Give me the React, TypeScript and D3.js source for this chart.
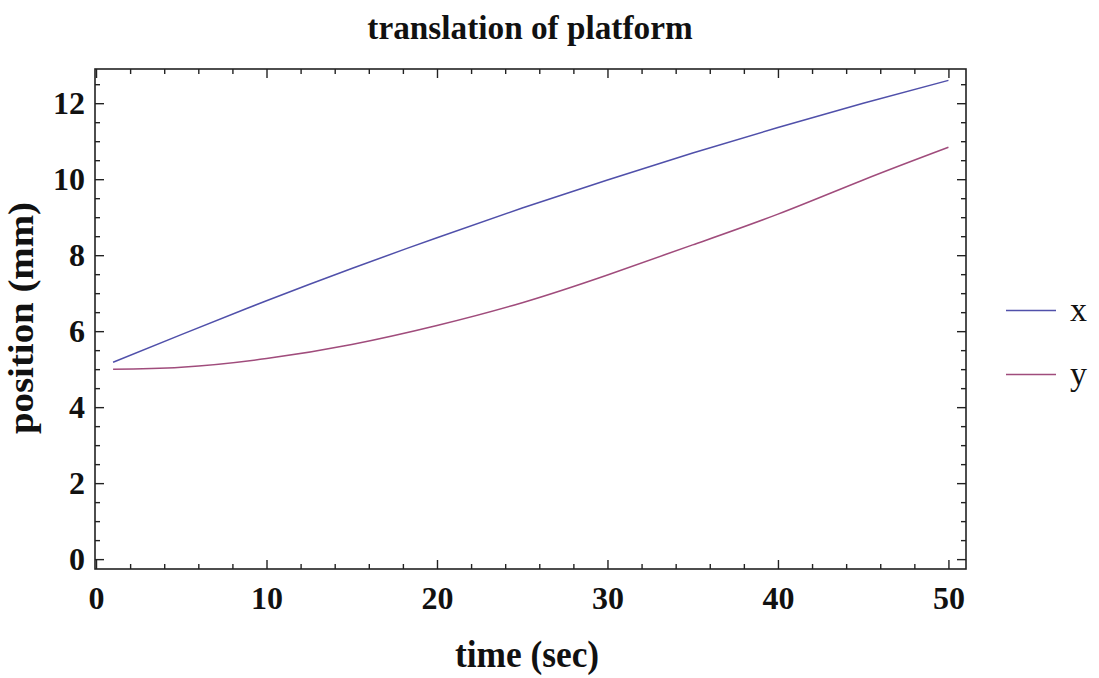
import React, { useEffect, useRef } from "react";
import * as d3 from "d3";

const times = [1, 5, 10, 15, 20, 25, 30, 35, 40, 45, 50];
const xPos = [5.18, 5.91, 6.8, 7.65, 8.46, 9.24, 9.98, 10.69, 11.36, 12.0, 12.6];
const yPos = [5.0, 5.05, 5.28, 5.65, 6.15, 6.75, 7.48, 8.27, 9.08, 9.98, 10.84];
const seriesNames = ["x", "y"];
const seriesColors = ["#5050aa", "#a04c7c"];
const xTicks = [0, 10, 20, 30, 40, 50];
const yTicks = [0, 2, 4, 6, 8, 10, 12];
const titleText = "translation of platform";
const xLabel = "time (sec)";
const yLabel = "position (mm)";

const W = 1099;
const H = 678;
const L = 95, R = 966, T = 69, B = 569;
const FONT = "'Liberation Serif', 'Times New Roman', serif";

export default function App() {
  const ref = useRef<SVGSVGElement>(null);
  useEffect(() => {
    const svg = d3.select(ref.current);
    svg.selectAll("*").remove();
    const x = d3.scaleLinear().domain([-0.06, 51.03]).range([L, R]);
    const y = d3.scaleLinear().domain([-0.26, 12.9]).range([B, T]);

    const xMinor = d3.range(0, 51, 2).filter((v) => v % 10 !== 0);
    const yMinor = d3.range(0, 12.9, 0.5).filter((v) => v % 2 !== 0);

    const style = (g: any) => {
      g.select(".domain").remove();
      g.selectAll("line").attr("stroke", "#222").attr("stroke-width", 1.4);
      g.selectAll("text")
        .attr("font-family", FONT)
        .attr("font-weight", "bold")
        .attr("font-size", 32)
        .attr("fill", "#111");
    };

    svg.append("g").attr("transform", `translate(0,${B})`)
      .call(d3.axisBottom(x).tickValues(xTicks).tickSize(-9).tickPadding(17).tickFormat(d3.format("d")))
      .call(style);
    svg.append("g").attr("transform", `translate(0,${B})`)
      .call(d3.axisBottom(x).tickValues(xMinor).tickSize(-5).tickFormat(() => ""))
      .call(style);
    svg.append("g").attr("transform", `translate(0,${T})`)
      .call(d3.axisTop(x).tickValues(xTicks).tickSize(-9).tickFormat(() => ""))
      .call(style);
    svg.append("g").attr("transform", `translate(0,${T})`)
      .call(d3.axisTop(x).tickValues(xMinor).tickSize(-5).tickFormat(() => ""))
      .call(style);
    svg.append("g").attr("transform", `translate(${L},0)`)
      .call(d3.axisLeft(y).tickValues(yTicks).tickSize(-9).tickPadding(10).tickFormat(d3.format("d")))
      .call(style);
    svg.append("g").attr("transform", `translate(${L},0)`)
      .call(d3.axisLeft(y).tickValues(yMinor).tickSize(-5).tickFormat(() => ""))
      .call(style);
    svg.append("g").attr("transform", `translate(${R},0)`)
      .call(d3.axisRight(y).tickValues(yTicks).tickSize(-9).tickFormat(() => ""))
      .call(style);
    svg.append("g").attr("transform", `translate(${R},0)`)
      .call(d3.axisRight(y).tickValues(yMinor).tickSize(-5).tickFormat(() => ""))
      .call(style);

    svg.append("rect")
      .attr("x", L).attr("y", T).attr("width", R - L).attr("height", B - T)
      .attr("fill", "none").attr("stroke", "#222").attr("stroke-width", 1.6);

    const line = d3.line<number>()
      .x((_, i) => x(times[i]))
      .y((d) => y(d))
      .curve(d3.curveNatural);
    [xPos, yPos].forEach((vals, k) => {
      svg.append("path")
        .attr("d", line(vals) as string)
        .attr("fill", "none")
        .attr("stroke", seriesColors[k])
        .attr("stroke-width", 1.5);
    });

    svg.append("text")
      .attr("transform", "translate(530,39) scale(1.04,1.06)")
      .attr("text-anchor", "middle")
      .attr("font-family", FONT).attr("font-weight", "bold").attr("font-size", 32)
      .attr("fill", "#111")
      .text(titleText);
    svg.append("text")
      .attr("transform", "translate(527,667) scale(1.04,1.1)")
      .attr("text-anchor", "middle")
      .attr("font-family", FONT).attr("font-weight", "bold").attr("font-size", 34)
      .attr("fill", "#111")
      .text(xLabel);
    svg.append("text")
      .attr("transform", `translate(33,318) rotate(-90) scale(1.08,1)`)
      .attr("text-anchor", "middle")
      .attr("font-family", FONT).attr("font-weight", "bold").attr("font-size", 36)
      .attr("fill", "#111")
      .text(yLabel);

    const ly = [310.5, 374.5];
    seriesNames.forEach((n, k) => {
      svg.append("line")
        .attr("x1", 1006).attr("x2", 1056).attr("y1", ly[k]).attr("y2", ly[k])
        .attr("stroke", seriesColors[k]).attr("stroke-width", 1.6);
      svg.append("text")
        .attr("x", 1070).attr("y", ly[k] + 10)
        .attr("font-family", FONT).attr("font-size", 34)
        .attr("fill", "#111")
        .text(n);
    });
  }, []);
  return (
    <svg ref={ref} width={W} height={H} style={{ position: "absolute", left: 0, top: 0, background: "#fff" }} />
  );
}
